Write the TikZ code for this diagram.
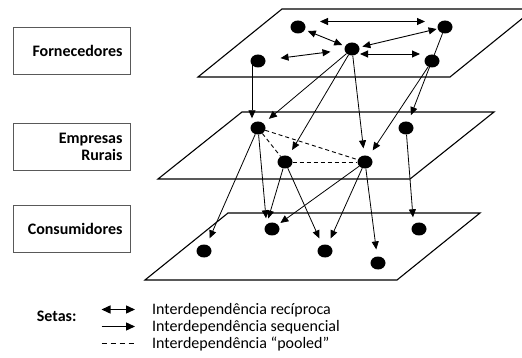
\documentclass[tikz,border=0pt]{standalone}
\usepackage{fontspec}
\setmainfont{Carlito}
\usetikzlibrary{arrows.meta,shapes.geometric}

\begin{document}
\begin{tikzpicture}[x=1pt, y=-1pt,
    dot/.style={ellipse, draw=none, fill=black, minimum width=15pt, minimum height=13pt, inner sep=0pt},
    plane/.style={draw=black, line width=1.1pt, line join=miter},
    layerbox/.style={rectangle, draw=black!65, line width=0.6pt, minimum height=47pt, text width=102pt,
        inner xsep=7.5pt, align=right, font=\bfseries\fontsize{16}{16.7}\selectfont},
    recip/.style={{Triangle[length=8pt,width=7pt]}-{Triangle[length=8pt,width=7pt]}, line width=0.9pt,
        shorten <=3pt, shorten >=3pt},
    seq/.style={-{Triangle[length=8pt,width=7pt]}, line width=0.8pt, shorten >=7pt},
    pooled/.style={line width=0.9pt, dash pattern=on 4pt off 3pt},
    legtext/.style={anchor=base west, inner sep=0pt, font=\fontsize{16}{16}\selectfont}
    ]
    \clip (0,0) rectangle (522,358);

    \draw [plane] (198,77) -- (450,77) -- (534,9) -- (282,9) -- cycle;
    \draw [plane] (158,179) -- (410,179) -- (494,112) -- (242,112) -- cycle;
    \draw [plane] (145,280) -- (397,280) -- (480,213) -- (228,213) -- cycle;

    \node (Box01) [layerbox] at (71.5,50.5) {Fornecedores};
    \node (Box02) [layerbox] at (71.5,147) {Empresas\\Rurais};
    \node (Box03) [layerbox] at (71.5,229) {Consumidores};

    \node (Forn01) [dot] at (298,27) {};
    \node (Forn02) [dot] at (445,27) {};
    \node (Forn03) [dot] at (352,49) {};
    \node (Forn04) [dot] at (258,61) {};
    \node (Forn05) [dot] at (432,61) {};

    \node (Emp01) [dot] at (258,128) {};
    \node (Emp02) [dot] at (406,128) {};
    \node (Emp03) [dot] at (285,162) {};
    \node (Emp04) [dot] at (365,162) {};

    \node (Cons01) [dot] at (204,251) {};
    \node (Cons02) [dot] at (272,229) {};
    \node (Cons03) [dot] at (325,251) {};
    \node (Cons04) [dot] at (378,263) {};
    \node (Cons05) [dot] at (419,229) {};

    \draw [recip, shorten <=22pt, shorten >=20pt] ([yshift=5.5pt]Forn01.center) -- ([yshift=5.5pt]Forn02.center);
    \draw [recip] (Forn01) -- (Forn03);
    \draw [recip, shorten >=1pt] (Forn03) -- (Forn02);
    \draw [recip, shorten <=15pt, shorten >=14pt] (Forn04) -- (Forn03);
    \draw [recip, shorten <=8pt, shorten >=12pt] ([yshift=-5pt]Forn03.center) -- ([yshift=-5pt]Forn03.center -| Forn05.center);

    \draw [seq, shorten >=3pt] ([xshift=-6pt]Forn04.center) -- ([xshift=-6pt]Emp01.north);
    \draw [seq] (Forn03) -- (Emp01);
    \draw [seq] (Forn03) -- (Emp03);
    \draw [seq] (Forn03) -- (Emp04);
    \draw [seq] (Forn05) -- (Emp04);
    \draw [seq] (Forn02) -- (Emp02);

    \draw [pooled] (Emp01) -- (Emp03);
    \draw [pooled] (Emp01) -- (Emp04);
    \draw [pooled] (Emp03) -- (Emp04);

    \draw [seq] (Emp01) -- (Cons01);
    \draw [seq, shorten >=6pt] (Emp01) -- (Cons02.north west);
    \draw [seq, shorten >=6pt] (Emp03) -- (Cons02.north west);
    \draw [seq] (Emp03) -- (Cons03);
    \draw [seq, shorten >=3pt] (Emp04) -- (Cons02);
    \draw [seq] (Emp04) -- (Cons03);
    \draw [seq] (Emp04) -- (Cons04);
    \draw [seq] (Emp02) -- (Cons05.north west);

    \node (Setas) [anchor=base west, inner sep=0pt, font=\bfseries\fontsize{16}{16}\selectfont] at (36.7,321) {Setas:};
    \coordinate (Leg01a) at (101.5,309.5);
    \coordinate (Leg01b) at (135,309.5);
    \coordinate (Leg02a) at (101.5,326.5);
    \coordinate (Leg02b) at (135,326.5);
    \coordinate (Leg03a) at (101.5,343.5);
    \coordinate (Leg03b) at (135,343.5);
    \draw [{Triangle[length=9pt,width=8pt]}-{Triangle[length=9pt,width=8pt]}, line width=1.4pt] (Leg01a) -- (Leg01b);
    \draw [-{Triangle[length=9pt,width=8pt]}, line width=1.4pt] (Leg02a) -- (Leg02b);
    \draw [line width=1.2pt, dash pattern=on 5pt off 4pt] (Leg03a) -- (Leg03b);
    \node (Leg01) [legtext] at (152,314) {Interdependência recíproca};
    \node (Leg02) [legtext] at (152,331) {Interdependência sequencial};
    \node (Leg03) [legtext] at (152,348) {Interdependência “pooled”};
\end{tikzpicture}
\end{document}
